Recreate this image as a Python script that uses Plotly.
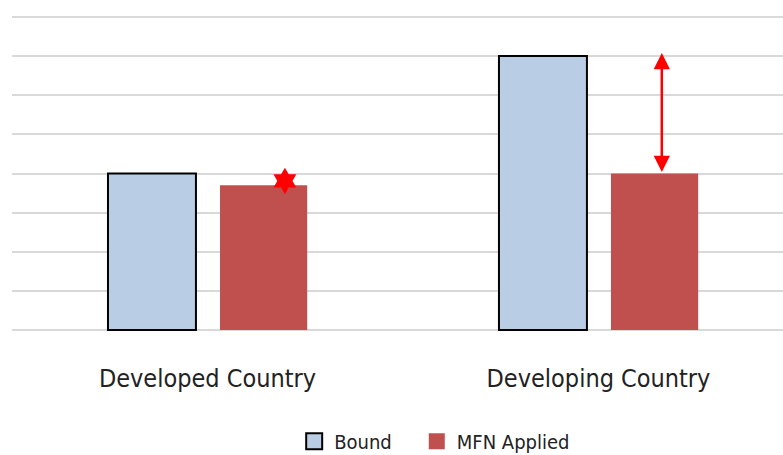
import plotly.graph_objects as go

categories = ["Developed Country", "Developing Country"]
bound = [4.0, 7.0]
mfn = [3.7, 4.0]
series_names = ["Bound", "MFN Applied"]
star_point = (0.198, 3.81)
arrow_x = 1.162

BLUE = "#B9CDE5"
RED = "#C0504D"
FONT = "DejaVu Sans Condensed, Noto Sans"

xs = [0, 1]
fig = go.Figure()
fig.add_trace(go.Bar(x=xs, y=bound, width=0.225, offset=-0.2545,
                     marker=dict(color=BLUE, line=dict(color="black", width=2)),
                     showlegend=False))
fig.add_trace(go.Bar(x=xs, y=mfn, width=0.223, offset=0.032,
                     marker=dict(color=RED, line=dict(width=0)),
                     showlegend=False))
# legend entries
fig.add_trace(go.Scatter(x=[None], y=[None], mode="markers", name=series_names[0],
                         legend="legend",
                         marker=dict(symbol="square", size=16, color=BLUE,
                                     line=dict(color="black", width=2))))
fig.add_trace(go.Scatter(x=[None], y=[None], mode="markers", name=series_names[1],
                         legend="legend2",
                         marker=dict(symbol="square", size=16, color=RED, line=dict(width=0))))
# star marker
fig.add_trace(go.Scatter(x=[star_point[0]], y=[star_point[1]], mode="markers",
                         marker=dict(symbol="hexagram", size=20, color="red", line=dict(width=0)),
                         showlegend=False))
# double arrow
fig.add_annotation(x=arrow_x, y=bound[1] + 0.08, ax=arrow_x, ay=mfn[1], xref="x", yref="y",
                   axref="x", ayref="y", showarrow=True, arrowhead=2, startarrowhead=2,
                   arrowside="end+start", arrowsize=1.3, startarrowsize=1.3,
                   arrowwidth=2.5, arrowcolor="red", text="")

leg_common = dict(orientation="h", y=-0.345, yanchor="middle", xanchor="left",
                  font=dict(size=20, color="#222222"), itemwidth=30,
                  bgcolor="rgba(0,0,0,0)")
fig.update_layout(
    width=783, height=455,
    margin=dict(l=12, r=0, t=15, b=123, autoexpand=False),
    plot_bgcolor="white", paper_bgcolor="white",
    barmode="overlay",
    font=dict(family=FONT, color="#222222"),
    legend=dict(x=0.366, **leg_common),
    legend2=dict(x=0.525, **leg_common),
    xaxis=dict(range=[-0.5, 1.472], tickmode="array", tickvals=xs, ticktext=categories,
               tickfont=dict(size=25, color="#222222"), showgrid=False, zeroline=False,
               ticks="", ticklabelstandoff=29, automargin=False),
    yaxis=dict(range=[-0.05, 8.05], tickmode="array", tickvals=list(range(9)),
               showticklabels=False, showgrid=True,
               gridcolor="#D9D9D9", gridwidth=2, zeroline=False, automargin=False),
)
fig.write_html("out.html")
